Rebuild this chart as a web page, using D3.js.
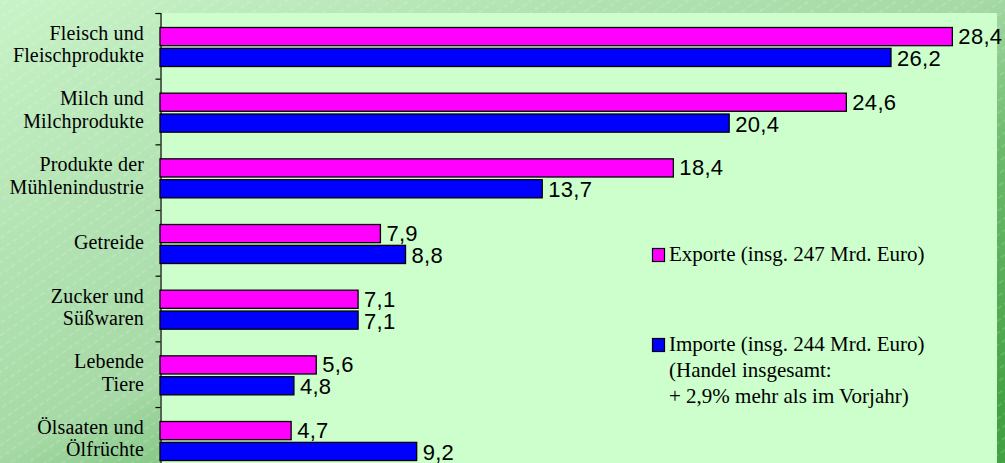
<!DOCTYPE html>
<html>
<head>
<meta charset="utf-8">
<script src="https://cdn.jsdelivr.net/npm/d3@7"></script>
<style>
  html, body { margin: 0; padding: 0; background: #fff; }
  svg { display: block; }
</style>
</head>
<body>
<div id="chart"></div>
<script>
// Kategorien (mehrzeilig) und Werte in Mrd. Euro
var categories = [
  ["Fleisch und", "Fleischprodukte"],
  ["Milch und", "Milchprodukte"],
  ["Produkte der", "Mühlenindustrie"],
  ["Getreide"],
  ["Zucker und", "Süßwaren"],
  ["Lebende", "Tiere"],
  ["Ölsaaten und", "Ölfrüchte"]
];
var exporte = [28.4, 24.6, 18.4, 7.9, 7.1, 5.6, 4.7];
var importe = [26.2, 20.4, 13.7, 8.8, 7.1, 4.8, 9.2];
var seriesNames = ["Exporte", "Importe"];
var legendExport = ["Exporte (insg. 247 Mrd. Euro)"];
var legendImport = ["Importe (insg. 244 Mrd. Euro)", "(Handel insgesamt:", "+ 2,9% mehr als im Vorjahr)"];

var cfg = {
  w: 1005,
  h: 463,
  left: 160,
  right: 997,
  top: 13,
  step: 65.67,
  xMax: 30,
  colors: ["#FF00FF", "#0000FF"]
};

var de = d3.formatLocale({decimal: ",", thousands: ".", grouping: [3], currency: ["", " €"]});
var fmt = de.format(".1f");

var svg = d3.select("#chart")
  .append("svg")
  .attr("width", cfg.w)
  .attr("height", cfg.h);

var defs = svg.append("defs");

// Hintergrund-Verlauf
var grad = defs.append("linearGradient")
  .attr("id", "bg")
  .attr("x1", 0).attr("y1", 0)
  .attr("x2", 1).attr("y2", 1);
[[0, "#c8f3c8"], [0.28, "#b2e2b2"], [0.49, "#a6d9a6"], [0.66, "#6cb96c"], [0.95, "#43a043"]]
  .forEach(function(s){
    grad.append("stop").attr("offset", s[0]).attr("stop-color", s[1]);
  });

// schräge gestrichelte Linien
var pat = defs.append("pattern")
  .attr("id", "stripes")
  .attr("patternUnits", "userSpaceOnUse")
  .attr("width", 24)
  .attr("height", 10)
  .attr("patternTransform", "rotate(-35)");
pat.append("line")
  .attr("x1", 0).attr("y1", 5)
  .attr("x2", 24).attr("y2", 5)
  .style("stroke", "#ffffff")
  .style("stroke-opacity", 0.35)
  .style("stroke-width", 0.8)
  .style("stroke-dasharray", "5,3");

svg.append("rect")
  .attr("width", cfg.w).attr("height", cfg.h)
  .style("fill", "url(#bg)");
svg.append("rect")
  .attr("width", cfg.w).attr("height", cfg.h)
  .style("fill", "url(#stripes)");

// Skalen
var y0 = d3.scaleBand()
  .domain(d3.range(categories.length))
  .range([cfg.top, cfg.top + cfg.step * categories.length])
  .paddingInner(0).paddingOuter(0);

var y1 = d3.scaleBand()
  .domain(seriesNames)
  .range([14.5, 53.5])
  .paddingInner(0.13);

var x = d3.scaleLinear()
  .domain([0, cfg.xMax])
  .range([cfg.left, cfg.right]);

// Plotfläche
svg.append("rect")
  .attr("x", x(0))
  .attr("y", cfg.top)
  .attr("width", x(cfg.xMax) - x(0))
  .attr("height", cfg.h - cfg.top)
  .style("fill", "#CCFFCC");

// Achse links mit Teilstrichen zwischen den Kategorien
var yAxis = d3.axisLeft(d3.scaleLinear().domain([0, categories.length]).range(y0.range()))
  .ticks(categories.length)
  .tickSize(5)
  .tickFormat("");
svg.append("g")
  .attr("transform", "translate(" + (x(0) + 0.5) + ",0)")
  .call(yAxis)
  .call(function(g){
    g.select(".domain").style("stroke", "#000").style("stroke-width", 1.2);
    g.selectAll(".tick line").style("stroke", "#000").style("stroke-width", 1.2);
  });

// Daten je Kategorie
var rows = categories.map(function(c, i){
  return {i: i, label: c, values: [exporte[i], importe[i]]};
});

var groups = svg.selectAll(".cat")
  .data(rows)
  .enter()
  .append("g")
  .attr("class", "cat")
  .attr("transform", function(d){ return "translate(0," + y0(d.i) + ")"; });

groups.selectAll("rect")
  .data(function(d){ return d.values.map(function(v, k){ return {s: seriesNames[k], k: k, v: v}; }); })
  .enter()
  .append("rect")
  .attr("x", x(0))
  .attr("y", function(d){ return y1(d.s); })
  .attr("width", function(d){ return x(d.v) - x(0); })
  .attr("height", y1.bandwidth())
  .style("fill", function(d){ return cfg.colors[d.k]; })
  .style("stroke", "#000")
  .style("stroke-width", 1.3);

groups.selectAll(".val")
  .data(function(d){ return d.values.map(function(v, k){ return {s: seriesNames[k], k: k, v: v}; }); })
  .enter()
  .append("text")
  .attr("class", "val")
  .attr("x", function(d){ return x(d.v) + 6; })
  .attr("y", function(d){ return y1(d.s) + y1.bandwidth() / 2 + (d.k == 0 ? 7.5 : 8.5); })
  .style("font-family", "'Liberation Sans', Arial, sans-serif")
  .style("font-size", "22px")
  .style("letter-spacing", "0.3px")
  .style("fill", "#000")
  .text(function(d){ return fmt(d.v); });

// Kategoriebeschriftungen
groups.append("text")
  .attr("text-anchor", "end")
  .style("font-family", "'Liberation Serif', 'Times New Roman', serif")
  .style("font-size", "20px")
  .style("letter-spacing", "0.15px")
  .style("fill", "#000")
  .each(function(d){
    var t = d3.select(this);
    var mid = y0.bandwidth() / 2;
    var n = d.label.length;
    d.label.forEach(function(line, j){
      t.append("tspan")
        .attr("x", 144)
        .attr("y", n == 1 ? mid + 6 : mid - 6 + j * 22.5)
        .text(line);
    });
  });

// Legende
var legend = [
  {k: 0, lines: legendExport, y: 248},
  {k: 1, lines: legendImport, y: 338}
];
var lg = svg.selectAll(".legend")
  .data(legend)
  .enter()
  .append("g")
  .attr("class", "legend")
  .attr("transform", function(d){ return "translate(652," + d.y + ")"; });

lg.append("rect")
  .attr("x", 0.5).attr("y", 0.5)
  .attr("width", 12).attr("height", 13)
  .style("fill", function(d){ return cfg.colors[d.k]; })
  .style("stroke", "#000")
  .style("stroke-width", 1.2);

lg.append("text")
  .style("font-family", "'Liberation Serif', 'Times New Roman', serif")
  .style("font-size", "21px")
  .style("fill", "#000")
  .each(function(d){
    var t = d3.select(this);
    d.lines.forEach(function(line, j){
      t.append("tspan")
        .attr("x", 17)
        .attr("y", 13 + j * 26)
        .text(line);
    });
  });
</script>
</body>
</html>
